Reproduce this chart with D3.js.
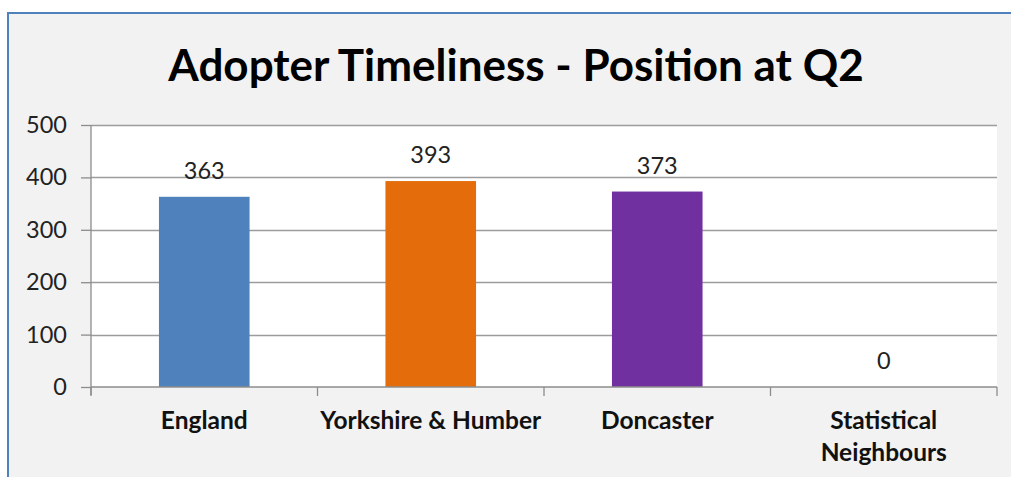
<!DOCTYPE html>
<html>
<head>
<meta charset="utf-8">
<script src="https://cdn.jsdelivr.net/npm/d3@7"></script>
<style>
  body { margin: 0; background: #fff; overflow: hidden; }
  svg { display: block; font-family: Lato, "Open Sans", sans-serif; }
</style>
</head>
<body>
<svg id="chart" width="1011" height="477"></svg>
<script>
// chart data
var categories = ["England", "Yorkshire & Humber", "Doncaster", "Statistical Neighbours"];
var values = [363, 393, 373, 0];
var barColours = ["#4f81bd", "#e46c0a", "#7030a0", "#4f81bd"];
var yTicks = [0, 100, 200, 300, 400, 500];
var chartTitle = "Adopter Timeliness - Position at Q2";

var svg = d3.select("#chart");
var W = 1011, H = 477;
var plot = { left: 91, right: 997, top: 125, bottom: 387 };

// outer chart area + border (only top and left edges are visible)
svg.append("rect")
    .attr("x", 8).attr("y", 13)
    .attr("width", W + 40).attr("height", H + 40)
    .attr("fill", "#f2f2f2")
    .attr("stroke", "#4f81bd")
    .attr("stroke-width", 2);

svg.append("text")
    .attr("x", 516).attr("y", 81)
    .attr("text-anchor", "middle")
    .attr("font-size", 44)
    .attr("font-weight", "bold")
    .attr("fill", "#000")
    .text(chartTitle);

var x = d3.scaleBand()
    .domain(categories)
    .range([plot.left, plot.right])
    .paddingInner(0.6)
    .paddingOuter(0.3);

// plain band for category ticks
var xCat = d3.scaleBand().domain(categories).range([plot.left, plot.right]);

var y = d3.scaleLinear().domain([0, 500]).range([plot.bottom, plot.top]);

svg.append("rect")
    .attr("x", plot.left).attr("y", plot.top)
    .attr("width", plot.right - plot.left).attr("height", plot.bottom - plot.top)
    .attr("fill", "#fff");

// gridlines
svg.append("g")
  .selectAll("line")
  .data(yTicks.filter(function(d) { return d > 0; }))
  .enter().append("line")
    .attr("x1", plot.left).attr("x2", plot.right)
    .attr("y1", function(d) { return Math.round(y(d)) + 0.5; })
    .attr("y2", function(d) { return Math.round(y(d)) + 0.5; })
    .attr("stroke", "#9c9c9c")
    .attr("stroke-width", 1.3);

// bars
svg.append("g")
  .selectAll("rect")
  .data(values)
  .enter().append("rect")
    .attr("x", function(d, i) { return x(categories[i]); })
    .attr("y", function(d) { return y(d); })
    .attr("width", x.bandwidth())
    .attr("height", function(d) { return plot.bottom - y(d); })
    .attr("fill", function(d, i) { return barColours[i]; });

// value labels
svg.append("g")
  .selectAll("text")
  .data(values)
  .enter().append("text")
    .attr("x", function(d, i) { return x(categories[i]) + x.bandwidth() / 2; })
    .attr("y", function(d) { return y(d) - 18; })
    .attr("text-anchor", "middle")
    .attr("font-size", 23.5)
    .attr("fill", "#222")
    .text(function(d) { return d; });

// y axis
var yAxis = d3.axisLeft(y).tickValues(yTicks).tickSize(10).tickPadding(14);
var gy = svg.append("g")
    .attr("transform", "translate(" + plot.left + ",0)")
    .call(yAxis);
gy.selectAll("line, path").attr("stroke", "#8c8c8c").attr("stroke-width", 1.3);
gy.select(".domain").attr("d", "M0," + plot.top + "V" + (plot.bottom + 8));
gy.selectAll("text")
    .attr("font-family", "Lato, sans-serif")
    .attr("font-size", 23.5)
    .attr("fill", "#222");

// x axis
var xAxis = d3.axisBottom(xCat).tickSize(0).tickFormat("");
var gx = svg.append("g")
    .attr("transform", "translate(0," + plot.bottom + ")")
    .call(xAxis);
gx.select(".domain").attr("stroke", "#8c8c8c").attr("stroke-width", 1.3)
    .attr("d", "M" + plot.left + ",0H" + plot.right);
gx.selectAll(".catTick")
  .data(categories.concat([null]))
  .enter().append("line")
    .attr("class", "catTick")
    .attr("x1", function(d, i) { return plot.left + i * xCat.step(); })
    .attr("x2", function(d, i) { return plot.left + i * xCat.step(); })
    .attr("y1", 0).attr("y2", 9)
    .attr("stroke", "#8c8c8c").attr("stroke-width", 1.3);

// category labels, wrapped like the original
var labelLines = [["England"], ["Yorkshire & Humber"], ["Doncaster"], ["Statistical", "Neighbours"]];
svg.append("g")
  .selectAll("text")
  .data(categories)
  .enter().append("text")
    .attr("text-anchor", "middle")
    .attr("font-size", 24.5)
    .attr("font-weight", "bold")
    .attr("fill", "#111")
    .each(function(d, i) {
      var t = d3.select(this);
      labelLines[i].forEach(function(line, j) {
        t.append("tspan")
          .attr("x", xCat(d) + xCat.bandwidth() / 2)
          .attr("y", 429 + j * 32)
          .text(line);
      });
    });
</script>
</body>
</html>
